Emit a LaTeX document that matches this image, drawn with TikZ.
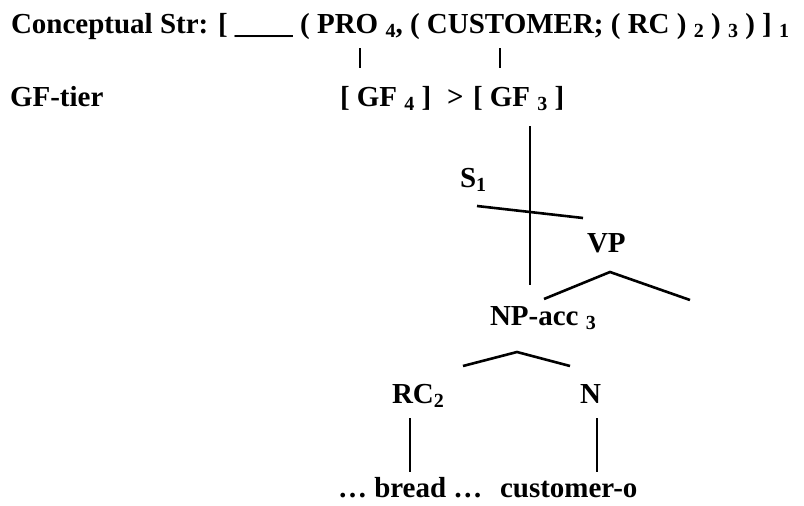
\documentclass[tikz,border=0pt]{standalone}
\usepackage{fontspec}
\setmainfont{Liberation Serif}
\newcommand{\lowsub}[1]{\raisebox{-4pt}{\fontsize{20}{20}\selectfont #1}}
\tikzset{
  lbl/.style={anchor=base west, inner sep=0pt, outer sep=0pt,
    font=\fontsize{29}{34}\selectfont\bfseries},
  tick/.style={line width=2pt},
  branch/.style={line width=2.6pt, line cap=butt, line join=miter},
}
\begin{document}
\begin{tikzpicture}[x=1pt, y=-1pt]
\useasboundingbox[fill=white] (0,0) rectangle (804,506);

% conceptual structure and GF tier
\node[lbl] (cs) at (11,33) {Conceptual Str: [ \_\_\_\_ ( PRO \lowsub{4}, ( CUSTOMER; ( RC ) \lowsub{2} ) \lowsub{3} ) ] \lowsub{1}};
\node[lbl] (gftier) at (10,106) {GF-tier};
\node[lbl] (gf4) at (340,106) {[ GF \lowsub{4} ]};
\node[lbl] (gt) at (447,106) {>};
\node[lbl] (gf3) at (473,106) {[ GF \lowsub{3} ]};

% links between the tiers
\coordinate (proT) at (360,48);  \coordinate (proB) at (360,68);
\coordinate (cusT) at (500,48);  \coordinate (cusB) at (500,68);
\draw[tick] (proT) -- (proB);
\draw[tick] (cusT) -- (cusB);

% tree
\node[lbl] (s1) at (460,187) {S\lowsub{1}};
\node[lbl] (vp) at (587,252) {VP};
\node[lbl] (np) at (490,325) {NP-acc \lowsub{3}};
\node[lbl] (rc) at (392,403) {RC\lowsub{2}};
\node[lbl] (n) at (580,403) {N};
\node[lbl] (bread) at (338,497) {\dots\ bread \dots};
\node[lbl] (cust) at (500,497) {customer-o};

% association line from GF3 down to the object NP
\coordinate (gfT) at (530,126);  \coordinate (gfB) at (530,285);
\draw[tick] (gfT) -- (gfB);

% S branch
\coordinate (sL) at (477,206);  \coordinate (sR) at (583,218);
\draw[branch] (sL) -- (sR);

% VP branches
\coordinate (vpL) at (544,299);  \coordinate (vpA) at (610,272);  \coordinate (vpR) at (690,300);
\draw[branch] (vpL) -- (vpA) -- (vpR);

% NP branches
\coordinate (npL) at (463,366);  \coordinate (npA) at (517,352);  \coordinate (npR) at (570,366);
\draw[branch] (npL) -- (npA) -- (npR);

% terminals
\coordinate (rcT) at (410,418);  \coordinate (rcB) at (410,472);
\coordinate (nT) at (597,418);   \coordinate (nB) at (597,472);
\draw[tick] (rcT) -- (rcB);
\draw[tick] (nT) -- (nB);
\end{tikzpicture}
\end{document}
